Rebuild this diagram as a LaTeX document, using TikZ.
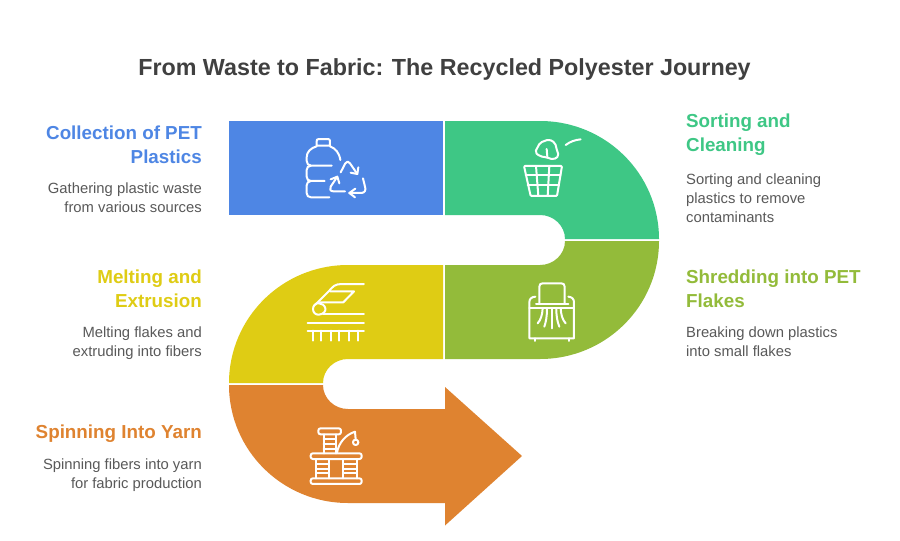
\documentclass[tikz,border=0pt]{standalone}
\usepackage{fontspec}
\setmainfont{Liberation Sans}
\definecolor{cblue}{HTML}{4E86E4}
\definecolor{cgreen}{HTML}{3EC785}
\definecolor{clime}{HTML}{93BB3A}
\definecolor{cyellow}{HTML}{DFCC14}
\definecolor{corange}{HTML}{DF8330}
\definecolor{ctitle}{HTML}{404040}
\definecolor{cbody}{HTML}{595959}
\tikzset{
  titletext/.style={text=ctitle,font=\fontsize{23.3}{28}\selectfont\bfseries,inner sep=0pt,anchor=base},
  headL/.style={font=\fontsize{18.8}{24}\selectfont\bfseries,inner sep=0pt,anchor=north east,align=right},
  headR/.style={font=\fontsize{18.8}{24}\selectfont\bfseries,inner sep=0pt,anchor=north west,align=left},
  bodyL/.style={text=cbody,font=\fontsize{14.8}{18.8}\selectfont,inner sep=0pt,anchor=north east,align=right},
  bodyR/.style={text=cbody,font=\fontsize{14.8}{18.8}\selectfont,inner sep=0pt,anchor=north west,align=left},
  icon/.style={draw=white,line width=2pt,line cap=round,line join=round},
  iconbox/.style={x=0.3333pt,y=-0.3333pt,icon},
}
\begin{document}
\begin{tikzpicture}[x=1pt,y=-1pt]
\useasboundingbox (0,0) rectangle (900,541);
\fill[white] (0,0) rectangle (900,541);
% band
\fill[cblue] (229,121) rectangle (443,215);
\fill[cgreen] (445,121) -- (540,121) .. controls (606,121) and (659,174) .. (659,239) -- (565,239) .. controls (565,226) and (554,215) .. (540,215) -- (445,215) -- cycle;
\fill[clime] (445,265) -- (540,265) .. controls (554,265) and (565,254) .. (565,241) -- (659,241) .. controls (659,306) and (606,359) .. (540,359) -- (445,359) -- cycle;
\fill[cyellow] (443,265) -- (348,265) .. controls (282,265) and (229,318) .. (229,383) -- (323,383) .. controls (323,370) and (334,359) .. (348,359) -- (443,359) -- cycle;
\fill[corange] (229,385) .. controls (229,450) and (282,503) .. (348,503) -- (445,503) -- (445,525.5) -- (522,456) -- (445,387) -- (445,409) -- (348,409) .. controls (334,409) and (323,398) .. (323,385) -- cycle;
% texts
\node[titletext] (title) at (444.5,75) {From Waste to Fabric: The Recycled Polyester Journey};
\node[headL,text=cblue] (h1) at (202,126) {Collection of PET\\Plastics};
\node[bodyL] (b1) at (202,183) {Gathering plastic waste\\from various sources};
\node[headR,text=cgreen] (h2) at (686,114) {Sorting and\\Cleaning};
\node[bodyR] (b2) at (686,173.5) {Sorting and cleaning\\plastics to remove\\contaminants};
\node[headL,text=cyellow] (h3) at (202,270) {Melting and\\Extrusion};
\node[bodyL] (b3) at (202,326.5) {Melting flakes and\\extruding into fibers};
\node[headR,text=clime] (h4) at (686,270) {Shredding into PET\\Flakes};
\node[bodyR] (b4) at (686,326.5) {Breaking down plastics\\into small flakes};
\node[headL,text=corange] (h5) at (202,425) {Spinning Into Yarn};
\node[bodyL] (b5) at (202,458.5) {Spinning fibers into yarn\\for fabric production};
% icon 1: bottle and recycling
\begin{scope}[shift={(280,120)},iconbox]
\draw (116,57) -- (144,57) .. controls (149,57) and (150,60) .. (150,64) -- (150,77) -- (110,77) -- (110,64) .. controls (110,60) and (111,57) .. (116,57) -- cycle;
\draw (110,79) .. controls (92,84) and (80,96) .. (80,112) -- (80,122) .. controls (80,131) and (85,137) .. (93,137) -- (155,137);
\draw (150,79) .. controls (166,85) and (178,98) .. (181,120);
\draw (93,137) .. controls (85,137) and (80,143) .. (80,150) -- (80,170) .. controls (80,178) and (85,183) .. (93,183) -- (134,183);
\draw (93,183) .. controls (85,183) and (80,189) .. (80,196) -- (80,219) .. controls (80,227) and (85,232) .. (93,232) -- (148,232);
\draw (182,157) -- (196,130) .. controls (200,123) and (206,123) .. (210,130) -- (232,162);
\draw (212,158) -- (232,162) -- (235,142);
\draw (249,175) -- (255,200) .. controls (259,210) and (254,218) .. (245,219) -- (208,219);
\draw (226,206) -- (208,219) -- (225,232);
\draw (195,214) -- (160,214) .. controls (151,214) and (148,207) .. (152,200) -- (172,170);
\draw (152,178) -- (172,170) -- (178,190);
\end{scope}
% icon 2: basket
\begin{scope}[shift={(500,120)},iconbox]
\draw[rounded corners=2pt] (105,97) -- (120,68) -- (147,58) -- (165,68) -- (172,95) -- (177,108) -- (160,119) -- (140,112) -- (120,109) -- cycle;
\draw (140,87) -- (142,110);
\draw (197,75) .. controls (212,64) and (225,60) .. (242,58);
\draw[rounded corners=1pt] (72,138) -- (186,138) -- (171,228) -- (92,228) -- cycle;
\draw (77,165) -- (182,165);
\draw (83,196) -- (177,196);
\draw (108,138) -- (115,228);
\draw (148,138) -- (143,228);
\end{scope}
% icon 3: shredder
\begin{scope}[shift={(500,270)},iconbox]
\draw (118,100) -- (118,50) .. controls (118,43) and (122,40) .. (128,40) -- (184,40) .. controls (190,40) and (194,43) .. (194,50) -- (194,100);
\draw (108,101) -- (205,101);
\draw (106,80) .. controls (94,81) and (88,87) .. (88,97) -- (88,205) -- (222,205) -- (222,97) .. controls (222,87) and (216,81) .. (205,80);
\draw (88,113) -- (222,113);
\draw (105,205) -- (105,213);
\draw (207,205) -- (207,213);
\draw (128,115) .. controls (127,135) and (122,150) .. (113,160);
\draw (141,115) .. controls (141,140) and (138,155) .. (133,170);
\draw (155,115) -- (155,175);
\draw (169,115) .. controls (169,140) and (172,155) .. (178,170);
\draw (182,115) .. controls (183,135) and (188,150) .. (197,160);
\end{scope}
% icon 4: extruder
\begin{scope}[shift={(290,270)},iconbox]
\draw (222,42) -- (155,42) .. controls (135,42) and (128,50) .. (118,62) -- (75,105);
\draw (120,64) -- (192,64) -- (160,97) -- (90,97);
\draw (100,133) -- (222,133);
\draw (87,100) .. controls (76,98) and (69,108) .. (69,117) .. controls (69,127) and (76,135) .. (87,134) .. controls (100,132) and (108,125) .. (106,115) .. controls (104,105) and (96,101) .. (87,100) -- cycle;
\draw (53,158) -- (222,158);
\draw (53,182) -- (222,182);
\foreach \tx in {68,92,122,148,178,205} \draw (\tx,182) -- (\tx,212);
\end{scope}
% icon 5: spinning frame
\begin{scope}[shift={(290,415)},iconbox]
\draw[rounded corners=2.2pt] (85,40) rectangle (153,58);
\draw (101,58) -- (101,115);
\draw (137,58) -- (137,115);
\draw (101,72) -- (137,72);
\draw (101,87) -- (137,87);
\draw (101,101) -- (137,101);
\draw (141,113) .. controls (146,85) and (165,60) .. (195,50) -- (197,73);
\draw (197,82) circle[radius=2.7pt];
\draw[rounded corners=2.2pt] (62,115) rectangle (215,132);
\draw (78,132) -- (78,190);
\draw (117,132) -- (117,190);
\draw (160,132) -- (160,190);
\draw (200,132) -- (200,190);
\foreach \ty in {147,161,175} {\draw (78,\ty) -- (117,\ty); \draw (160,\ty) -- (200,\ty);}
\draw[rounded corners=2.2pt] (62,190) rectangle (215,207);
\end{scope}
\end{tikzpicture}
\end{document}
